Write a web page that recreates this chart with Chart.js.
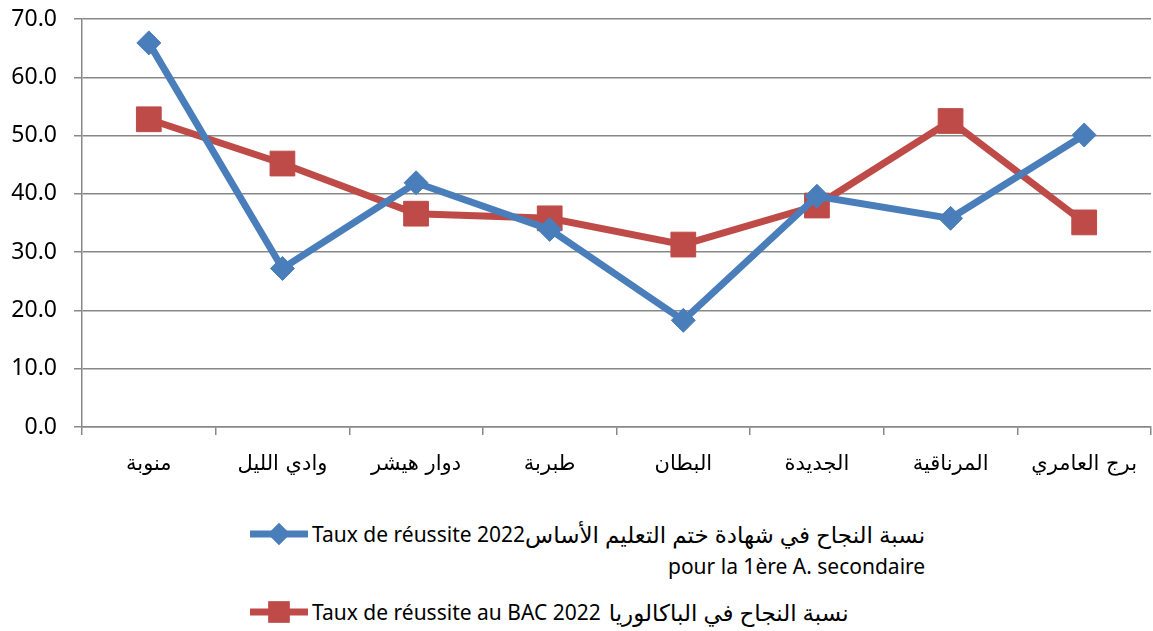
<!DOCTYPE html>
<html>
<head>
<meta charset="utf-8">
<script src="https://cdn.jsdelivr.net/npm/chart.js@4.4.0/dist/chart.umd.min.js"></script>
<style>
  body { margin: 0; background: #fff; }
  #wrap { position: relative; width: 1153px; height: 500px; }
  .legend { position: absolute; left: 250px; font-family: "Noto Sans", "DejaVu Sans", sans-serif; font-size: 21px; color: #000; white-space: nowrap; }
  .row { display: flex; align-items: center; }
  .mk { width: 58px; height: 26px; margin-right: 4px; }
  .ar { font-size: 23px; }
  .sub { text-align: right; }
</style>
</head>
<body>
<div id="wrap"><canvas id="lineChart" width="1153" height="500"></canvas></div>
<div class="legend" style="top:518px;">
  <div class="row"><canvas class="mk" id="mk1" width="58" height="26"></canvas><span>Taux de réussite 2022</span><span class="ar" dir="rtl">نسبة النجاح في شهادة ختم التعليم الأساس</span></div>
  <div class="sub" style="margin-top:2px;">pour la 1ère A. secondaire</div>
</div>
<div class="legend" style="top:596px;">
  <div class="row"><canvas class="mk" id="mk2" width="58" height="26"></canvas><span>Taux de réussite au BAC 2022</span><span class="ar" dir="rtl" style="margin-left:8px;">نسبة النجاح في الباكالوريا</span></div>
</div>
<script>
// Success rates per delegation - Manouba 2022
const delegations = ["منوبة", "وادي الليل", "دوار هيشر", "طبربة", "البطان", "الجديدة", "المرناقية", "برج العامري"];
const rateSecondary = [65.9, 27.2, 41.9, 33.9, 18.3, 39.6, 35.8, 50.1];
const rateBac = [52.8, 45.2, 36.6, 35.8, 31.3, 38.0, 52.5, 35.1];
const yTicks = [0, 10, 20, 30, 40, 50, 60, 70];

const BLUE = "#4A7EBB";
const RED = "#BE4B48";

const lineCtx = document.getElementById("lineChart").getContext("2d");
const lineChart = new Chart(lineCtx, {
  type: "line",
  data: {
    labels: delegations,
    datasets: [
      {
        label: "Taux de réussite 2022 - 1ère A. secondaire",
        data: rateSecondary,
        borderColor: BLUE,
        backgroundColor: BLUE,
        borderWidth: 7,
        pointStyle: "rectRot",
        pointRadius: 12,
        pointBorderWidth: 1,
        tension: 0,
      },
      {
        label: "Taux de réussite au BAC 2022",
        data: rateBac,
        borderColor: RED,
        backgroundColor: RED,
        borderWidth: 7,
        pointStyle: "rect",
        pointRadius: 17.5,
        pointBorderWidth: 1,
        tension: 0,
      },
    ],
  },
  options: {
    responsive: false,
    animation: false,
    layout: { autoPadding: false, padding: { top: 19, right: 2, left: 0, bottom: 0 } },
    plugins: {
      legend: { display: false },
      tooltip: { enabled: false },
    },
    scales: {
      x: {
        offset: true,
        grid: { display: true, offset: true, drawOnChartArea: false, color: "#888", lineWidth: 1.5, tickLength: 8 },
        border: { color: "#888", width: 1.5 },
        ticks: { color: "#000", font: { family: "DejaVu Sans", size: 21 }, padding: 17, maxRotation: 0 },
        afterFit: (s) => { s.height = 73; s.paddingLeft = 0; s.paddingRight = 0; },
      },
      y: {
        min: 0,
        max: 70,
        afterBuildTicks: (s) => { s.ticks = yTicks.map((v) => ({ value: v })); },
        grid: { color: "#888", lineWidth: 1.5, tickLength: 8 },
        border: { color: "#888", width: 1.5 },
        ticks: {
          color: "#000",
          font: { family: "Noto Sans", size: 23 },
          padding: 17,
          callback: (v) => v.toFixed(1),
        },
        afterFit: (s) => { s.width = 82; s.paddingTop = 0; s.paddingBottom = 0; },
      },
    },
  },
});

// legend markers
function drawMarker(id, color, style, r) {
  const c = document.getElementById(id).getContext("2d");
  c.strokeStyle = color;
  c.lineWidth = 7;
  c.beginPath();
  c.moveTo(0, 13);
  c.lineTo(58, 13);
  c.stroke();
  c.fillStyle = color;
  Chart.helpers.drawPoint(c, { pointStyle: style, radius: r, borderWidth: 0 }, 29, 13);
  c.fill();
}
drawMarker("mk1", BLUE, "rectRot", 11);
drawMarker("mk2", RED, "rect", 15);
</script>
</body>
</html>
